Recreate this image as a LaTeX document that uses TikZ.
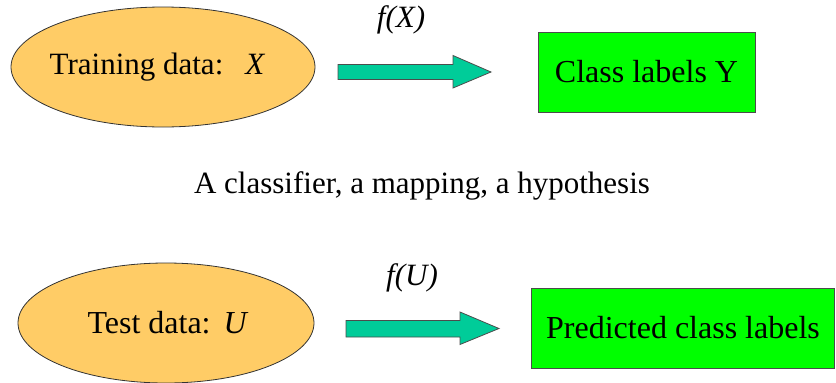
\documentclass[tikz,border=0pt]{standalone}
\usepackage{fontspec}
\setmainfont{Liberation Serif}
\usetikzlibrary{shapes.geometric}
\definecolor{dataorange}{HTML}{FFCC66}
\definecolor{mapteal}{HTML}{00CC99}
\definecolor{labelgreen}{HTML}{00FF00}
\begin{document}
\begin{tikzpicture}[x=1pt,y=-1pt,
  datanode/.style={ellipse,draw=black!80,line width=0.8pt,fill=dataorange,
    minimum width=#1,minimum height=120pt,inner sep=0pt},
  bodytext/.style={font=\fontsize{#1}{37}\selectfont,inner sep=0pt},
  bodytext/.default=32,
  labelbox/.style={rectangle,draw=black!70,line width=0.8pt,fill=labelgreen,
    minimum width=#1,minimum height=80pt,inner sep=0pt,font=\fontsize{32}{37}\selectfont},
  blockarrow/.style={draw=black!70,line width=0.8pt,fill=mapteal},
  fnlabel/.style={font=\fontsize{31}{36}\selectfont\itshape}]
\useasboundingbox (0,0) rectangle (836,383);

% training row
\node[datanode=304pt] (train) at (163,67) {};
\node[bodytext=31] (traintext) at (157.5,67) {Training data:\hspace{22pt}\textit{X}};
\node[labelbox=217pt] (classes) at (646.5,72) {Class labels Y};
\coordinate (a1) at (338,72);
\draw[blockarrow] (a1) ++(0,-7.5) -- ++(115,0) -- ++(0,-9) -- (491,72)
  -- (453,88) -- ++(0,-8.5) -- (338,79.5) -- cycle;
\node[fnlabel] (fx) at (401,20) {f(X)};

% caption between the rows
\node[bodytext=31] (cap) at (422,186) {A classifier, a mapping, a hypothesis};

% test row
\node[datanode=296pt] (test) at (166,323) {};
\node[bodytext] (testtext) at (168,323) {Test data:\hspace{13pt}\textit{U}};
\node[labelbox=303pt] (pred) at (683,328) {Predicted class labels};
\coordinate (a2) at (346,328.5);
\draw[blockarrow] (a2) ++(0,-8) -- ++(114,0) -- ++(0,-8.5) -- (499,328.5)
  -- (460,344.5) -- ++(0,-7.5) -- (346,337) -- cycle;
\node[fnlabel] (fu) at (412,278) {f(U)};
\end{tikzpicture}
\end{document}
